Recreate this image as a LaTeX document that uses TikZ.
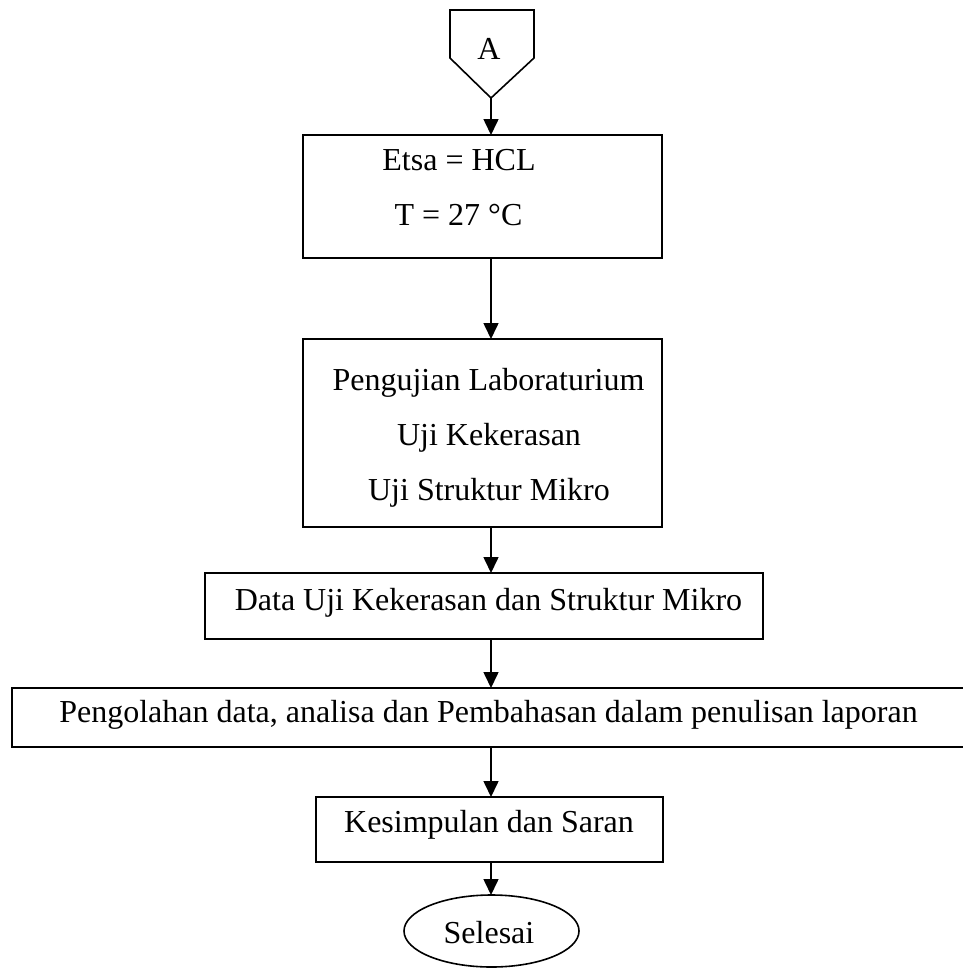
\documentclass[tikz,border=0pt]{standalone}
\usepackage{fontspec}
\setmainfont{Liberation Serif}
\usetikzlibrary{arrows.meta,shapes.geometric}
\begin{document}
\begin{tikzpicture}[x=1pt,y=-1pt,
  box/.style={draw=black,line width=1.6pt,rectangle,inner sep=0pt,outer sep=0pt},
  oval/.style={draw=black,line width=1.6pt,ellipse,inner sep=0pt,outer sep=0pt,minimum width=175pt,minimum height=72pt},
  txt/.style={anchor=base,inner sep=0pt,font=\fontsize{32}{38}\selectfont},
  arr/.style={line width=1.6pt,-{Triangle[length=16pt,width=15pt]}}]
\useasboundingbox (0,0) rectangle (963,969);
\clip (0,0) rectangle (963,969);
% connector (off-page) symbol
\draw[line width=1.6pt,line join=miter] (450,10) -- (534,10) -- (534,58) -- (491,98) -- (450,58) -- cycle;
\coordinate (atip) at (491,98);
\coordinate (ax) at (491,0);
\node[txt] (ta) at (489,59) {A};
% boxes
\node[box,minimum width=359pt,minimum height=123pt] (b1) at (482.5,196.5) {};
\node[txt] (t1a) at (459,170) {Etsa = HCL};
\node[txt] (t1b) at (458.5,225) {T = 27 °C};
\node[box,minimum width=359pt,minimum height=188pt] (b2) at (482.5,433) {};
\node[txt] (t2a) at (488.5,390) {Pengujian Laboraturium};
\node[txt] (t2b) at (489,445) {Uji Kekerasan};
\node[txt] (t2c) at (489,500) {Uji Struktur Mikro};
\node[box,minimum width=558pt,minimum height=66pt] (b3) at (484,606) {};
\node[txt] (t3) at (488.5,610) {Data Uji Kekerasan dan Struktur Mikro};
\node[box,minimum width=988pt,minimum height=59pt] (b4) at (506,717.5) {};
\node[txt] (t4) at (488.5,722) {Pengolahan data, analisa dan Pembahasan dalam penulisan laporan};
\node[box,minimum width=347pt,minimum height=65pt] (b5) at (489.5,829.5) {};
\node[txt] (t5) at (489,832) {Kesimpulan dan Saran};
\node[oval] (e) at (491.5,931) {};
\node[txt] (te) at (489,943) {Selesai};
% connectors
\draw[arr] (atip) -- (b1.north -| ax);
\draw[arr] (b1.south -| ax) -- (b2.north -| ax);
\draw[arr] (b2.south -| ax) -- (b3.north -| ax);
\draw[arr] (b3.south -| ax) -- (b4.north -| ax);
\draw[arr] (b4.south -| ax) -- (b5.north -| ax);
\draw[arr] (b5.south -| ax) -- (e.north -| ax);
\end{tikzpicture}
\end{document}
